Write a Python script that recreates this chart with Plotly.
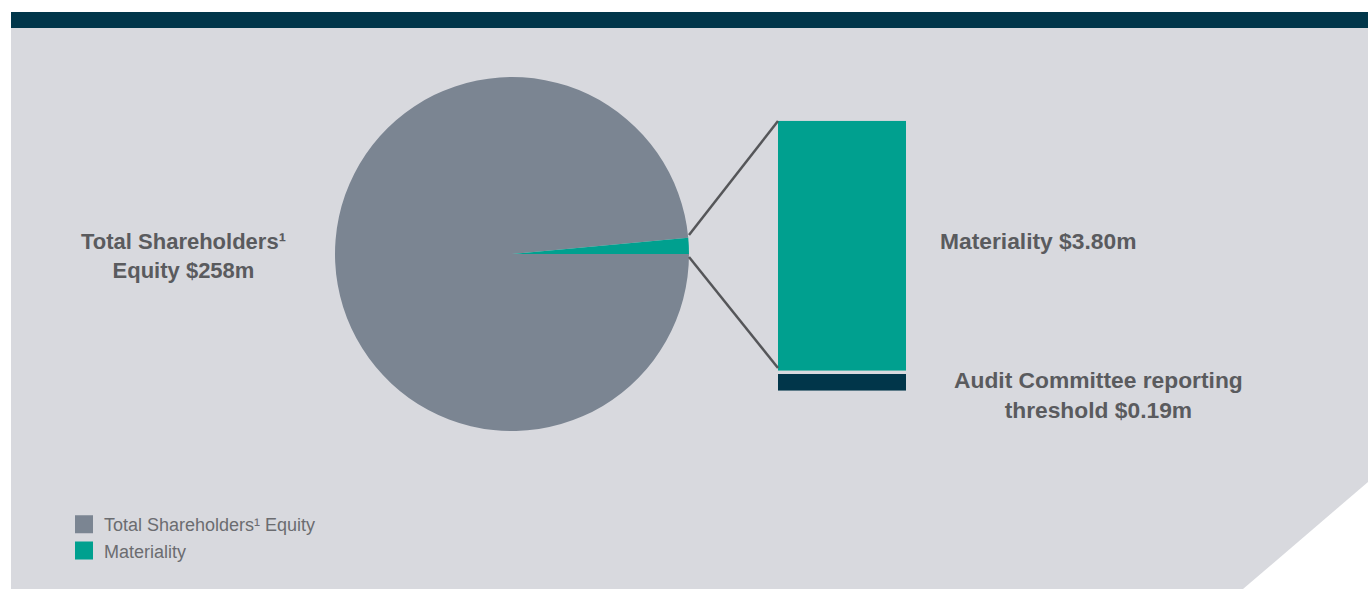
import plotly.graph_objects as go

W, H = 1368, 589

# ---- data ----
pie_labels = ["Total Shareholders¹ Equity", "Materiality"]
equity_m = 258.0
materiality_m = 3.80
threshold_m = 0.19
label_equity = "Total Shareholders¹<br>Equity $258m"
label_materiality = "Materiality $3.80m"
label_threshold = "Audit Committee reporting<br>threshold $0.19m"

# ---- style ----
GREY_PANEL = "#d8d9de"
NAVY = "#01364a"
SLATE = "#7b8592"
TEAL = "#00a08f"
TEXT = "#5a5b5e"
LEGEND_TEXT = "#6b6c70"
FONT = "Liberation Sans, Arial, Helvetica, sans-serif"
pie_colors = [SLATE, TEAL]


def px_x(x):
    return x / W


def px_y(y):
    return 1 - y / H


fig = go.Figure()

# pie
fig.add_trace(go.Pie(
    labels=pie_labels,
    values=[equity_m - materiality_m, materiality_m],
    sort=False,
    direction="clockwise",
    rotation=90,
    marker=dict(colors=pie_colors, line=dict(width=0)),
    textinfo="none",
    hoverinfo="label+value",
    domain=dict(x=[px_x(335), px_x(689)], y=[px_y(431), px_y(77)]),
    showlegend=False,
))

# legend entries for the pie categories
for name, col in zip(pie_labels, pie_colors):
    fig.add_trace(go.Scatter(
        x=[None], y=[None], mode="markers", name=name,
        marker=dict(symbol="square", size=16, color=col, line=dict(color=col, width=2)),
        showlegend=True, hoverinfo="skip",
    ))

# exploded bar: materiality (upper panel) and reporting threshold (lower panel)
fig.add_trace(go.Bar(
    x=[0], y=[materiality_m], width=1,
    marker=dict(color=TEAL, line=dict(width=0)),
    xaxis="x", yaxis="y", showlegend=False,
    hovertemplate="Materiality $%{y}m<extra></extra>",
))
fig.add_trace(go.Bar(
    x=[0], y=[threshold_m], width=1,
    marker=dict(color=NAVY, line=dict(width=0)),
    xaxis="x2", yaxis="y2", showlegend=False,
    hovertemplate="Audit Committee reporting threshold $%{y}m<extra></extra>",
))

fig.update_layout(
    width=W, height=H,
    margin=dict(l=0, r=0, t=0, b=0),
    paper_bgcolor="white",
    plot_bgcolor="rgba(0,0,0,0)",
    font=dict(family=FONT, color=TEXT),
    xaxis=dict(domain=[px_x(778), px_x(906)], range=[-0.5, 0.5], visible=False, fixedrange=True),
    yaxis=dict(domain=[px_y(370.7), px_y(120.7)], range=[0, materiality_m], visible=False, fixedrange=True),
    xaxis2=dict(domain=[px_x(778), px_x(906)], range=[-0.5, 0.5], visible=False, fixedrange=True,
                anchor="y2"),
    yaxis2=dict(domain=[px_y(390.7), px_y(374)], range=[0, threshold_m], visible=False, fixedrange=True,
                anchor="x2"),
    legend=dict(
        x=px_x(64), y=px_y(506), xanchor="left", yanchor="top",
        bgcolor="rgba(0,0,0,0)",
        font=dict(family=FONT, size=18, color=LEGEND_TEXT),
        tracegroupgap=0,
    ),
    shapes=[
        # grey panel
        dict(type="rect", xref="paper", yref="paper", x0=px_x(11), x1=1, y0=0, y1=px_y(28),
             fillcolor=GREY_PANEL, line=dict(width=0), layer="below"),
        # dark header band
        dict(type="rect", xref="paper", yref="paper", x0=px_x(11), x1=1, y0=px_y(28), y1=px_y(12),
             fillcolor=NAVY, line=dict(width=0), layer="below"),
        # white corner cut
        dict(type="path", xref="paper", yref="paper",
             path=f"M {px_x(1243)} {px_y(589)} L {px_x(1368)} {px_y(482)} L 1 0 Z",
             fillcolor="white", line=dict(width=0), layer="below"),
        # connector lines
        dict(type="line", xref="paper", yref="paper", x0=px_x(689), y0=px_y(235), x1=px_x(778), y1=px_y(121),
             line=dict(color="#555659", width=2.5)),
        dict(type="line", xref="paper", yref="paper", x0=px_x(689), y0=px_y(257), x1=px_x(778), y1=px_y(368),
             line=dict(color="#555659", width=2.5)),
    ],
    annotations=[
        dict(text=f"<b>{label_equity}</b>", xref="paper", yref="paper", x=px_x(183.5), y=px_y(256),
             xanchor="center", yanchor="middle", showarrow=False, align="center",
             font=dict(family=FONT, size=22, color=TEXT)),
        dict(text=f"<b>{label_materiality}</b>", xref="paper", yref="paper", x=px_x(938), y=px_y(241.5),
             xanchor="left", yanchor="middle", showarrow=False, align="left",
             font=dict(family=FONT, size=22.8, color=TEXT)),
        dict(text=f"<b>{label_threshold}</b>", xref="paper", yref="paper", x=px_x(1098), y=px_y(395),
             xanchor="center", yanchor="middle", showarrow=False, align="center",
             font=dict(family=FONT, size=22.8, color=TEXT)),
    ],
)

fig.write_html(
    "out.html",
    config={"displayModeBar": False},
    post_script="document.body.style.margin='0';document.body.style.overflow='hidden';",
)
